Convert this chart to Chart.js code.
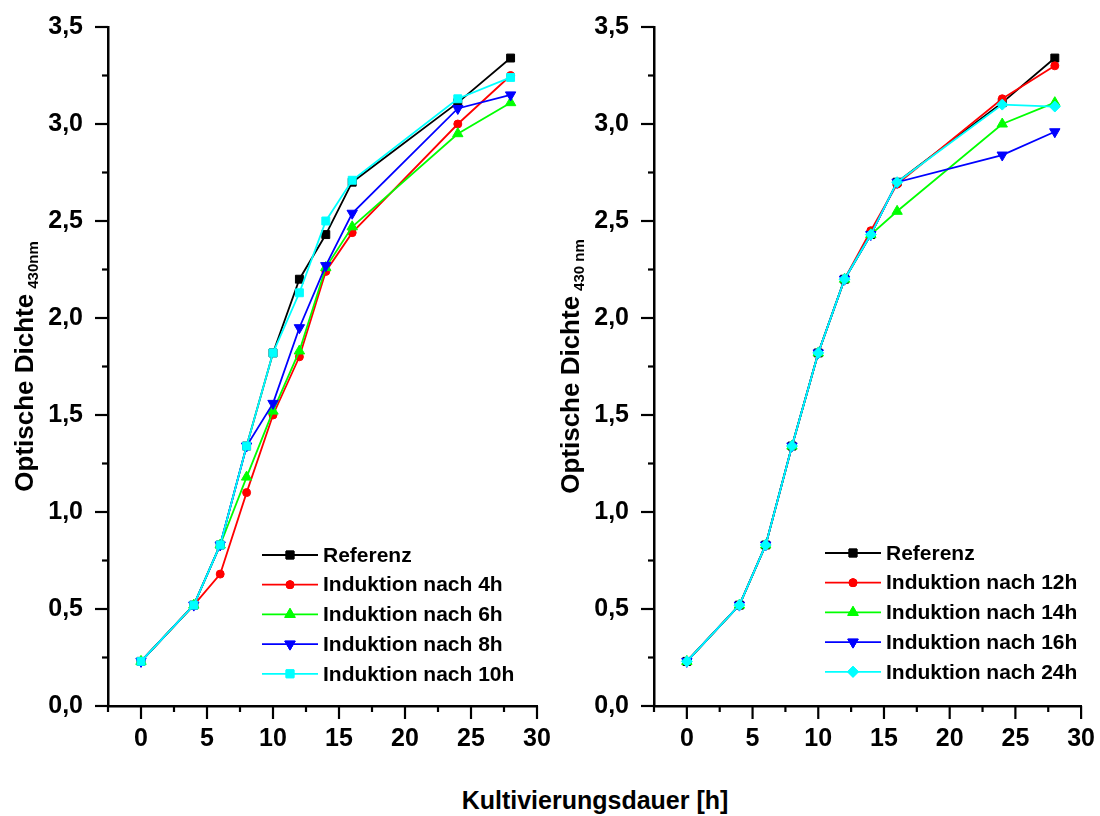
<!DOCTYPE html>
<html>
<head>
<meta charset="utf-8">
<script src="https://cdn.jsdelivr.net/npm/chart.js@4/dist/chart.umd.min.js"></script>
<style>
  body { margin: 0; background: #fff; }
  #wrap { position: relative; width: 1100px; height: 816px; overflow: hidden; }
  .box { position: absolute; top: 0; }
  #xtitle {
    position: absolute; left: 0; width: 1190px; top: 786px; text-align: center;
    font: bold 25px "Liberation Sans", Arial, sans-serif; color: #000;
  }
</style>
</head>
<body>
<div id="wrap">
  <div class="box" style="left:0px"><canvas id="left" width="560" height="760"></canvas></div>
  <div class="box" style="left:550px"><canvas id="right" width="550" height="760"></canvas></div>
  <div id="xtitle">Kultivierungsdauer [h]</div>
</div>
<script>
// --- DATA ---
const hours = [0, 4, 6, 8, 10, 12, 14, 16, 24, 28];
const referenz = [0.23, 0.52, 0.83, 1.34, 1.82, 2.20, 2.43, 2.70, 3.11, 3.34];
// left panel
const ind4h  = [0.23, 0.52, 0.68, 1.10, 1.50, 1.80, 2.24, 2.44, 3.00, 3.25];
const ind6h  = [0.23, 0.52, 0.83, 1.18, 1.52, 1.83, 2.26, 2.47, 2.95, 3.11];
const ind8h  = [0.23, 0.52, 0.83, 1.34, 1.56, 1.95, 2.27, 2.54, 3.08, 3.15];
const ind10h = [0.23, 0.52, 0.83, 1.34, 1.82, 2.13, 2.50, 2.71, 3.13, 3.24];
// right panel
const ind12h = [0.23, 0.52, 0.83, 1.34, 1.82, 2.20, 2.45, 2.69, 3.13, 3.30];
const ind14h = [0.23, 0.52, 0.83, 1.34, 1.82, 2.20, 2.43, 2.55, 3.00, 3.11];
const ind16h = [0.23, 0.52, 0.83, 1.34, 1.82, 2.20, 2.43, 2.70, 2.84, 2.96];
const ind24h = [0.23, 0.52, 0.83, 1.34, 1.82, 2.20, 2.43, 2.70, 3.10, 3.09];

const leftLabels  = ['Referenz', 'Induktion nach 4h', 'Induktion nach 6h', 'Induktion nach 8h', 'Induktion nach 10h'];
const rightLabels = ['Referenz', 'Induktion nach 12h', 'Induktion nach 14h', 'Induktion nach 16h', 'Induktion nach 24h'];

const FONT = '"Liberation Sans", Arial, sans-serif';
const colors = ['#000000', '#ff0000', '#00ff00', '#0000ff', '#00ffff'];

function makeSet(label, values, i, style, radius, rotation) {
    return {
        label: label,
        data: hours.map((h, k) => ({ x: h, y: values[k] })),
        borderColor: colors[i],
        backgroundColor: colors[i],
        borderWidth: 1.8,
        pointStyle: style,
        pointRadius: radius,
        pointRotation: rotation || 0,
        pointBorderWidth: 1,
        pointBorderColor: colors[i],
        pointBackgroundColor: colors[i],
        tension: 0,
        clip: false,
        order: 4 - i
    };
}

// ticks with major/minor lengths
const tickMarks = {
    id: 'tickMarks',
    afterDraw(chart) {
        const ctx = chart.ctx;
        const xs = chart.scales.x, ys = chart.scales.y;
        ctx.save();
        ctx.strokeStyle = '#000';
        ctx.lineWidth = 2.2;
        ys.ticks.forEach(t => {
            const major = Math.abs(t.value * 2 - Math.round(t.value * 2)) < 1e-6;
            const len = major ? 13 : 6;
            const y = ys.getPixelForValue(t.value);
            ctx.beginPath();
            ctx.moveTo(xs.left - len, y);
            ctx.lineTo(xs.left, y);
            ctx.stroke();
        });
        xs.ticks.forEach(t => {
            const major = Math.abs(t.value / 5 - Math.round(t.value / 5)) < 1e-6;
            const len = major ? 13 : 6;
            const x = xs.getPixelForValue(t.value);
            ctx.beginPath();
            ctx.moveTo(x, ys.bottom);
            ctx.lineTo(x, ys.bottom + len);
            ctx.stroke();
        });
        ctx.restore();
    }
};

// y title with subscript
const yTitle = {
    id: 'yTitle',
    afterDraw(chart, args, opts) {
        const ctx = chart.ctx;
        const area = chart.chartArea;
        ctx.save();
        ctx.translate(opts.x, (area.top + area.bottom) / 2);
        ctx.rotate(-Math.PI / 2);
        ctx.fillStyle = '#000';
        ctx.textBaseline = 'middle';
        ctx.font = 'bold 26px ' + FONT;
        const w1 = ctx.measureText(opts.text).width;
        ctx.font = 'bold 15px ' + FONT;
        const w2 = ctx.measureText(opts.sub).width;
        const start = -(w1 + 5 + w2) / 2;
        ctx.font = 'bold 26px ' + FONT;
        ctx.textAlign = 'left';
        ctx.fillText(opts.text, start, 0);
        ctx.font = 'bold 15px ' + FONT;
        ctx.fillText(opts.sub, start + w1 + 5, 8);
        ctx.restore();
    }
};

// legend drawn inside the plot
const innerLegend = {
    id: 'innerLegend',
    afterDraw(chart, args, opts) {
        const ctx = chart.ctx;
        ctx.save();
        chart.data.datasets.forEach((ds, i) => {
            const y = opts.y + i * opts.step;
            ctx.strokeStyle = ds.borderColor;
            ctx.lineWidth = 1.8;
            ctx.beginPath();
            ctx.moveTo(opts.x, y);
            ctx.lineTo(opts.x + 56, y);
            ctx.stroke();
            ctx.fillStyle = ds.backgroundColor;
            ctx.lineWidth = 1;
            Chart.helpers.drawPoint(ctx, {
                pointStyle: ds.pointStyle, radius: ds.pointRadius,
                rotation: ds.pointRotation, borderWidth: 1
            }, opts.x + 28, y);
            ctx.fill();
            ctx.stroke();
            ctx.fillStyle = '#000';
            ctx.font = 'bold 21px ' + FONT;
            ctx.textBaseline = 'middle';
            ctx.textAlign = 'left';
            ctx.fillText(ds.label, opts.x + 61, y + 1);
        });
        ctx.restore();
    }
};

function makeChart(id, datasets, cfg) {
    return new Chart(document.getElementById(id), {
        type: 'line',
        data: { datasets: datasets },
        plugins: [tickMarks, yTitle, innerLegend],
        options: {
            responsive: false,
            animation: false,
            layout: { padding: { top: 27, right: cfg.padRight, left: 0, bottom: 0 } },
            plugins: {
                legend: { display: false },
                tooltip: { enabled: false },
                yTitle: { x: cfg.titleX, text: 'Optische Dichte', sub: cfg.sub },
                innerLegend: { x: cfg.legX, y: cfg.legY, step: 29.7 }
            },
            scales: {
                x: {
                    type: 'linear', min: -2.5, max: 30,
                    afterFit: s => { s.height = 54; },
                    ticks: {
                        stepSize: 2.5, autoSkip: false, maxRotation: 0, padding: 5, color: '#000',
                        font: { family: FONT, size: 25, weight: 'bold' },
                        callback: v => (Math.abs(v / 5 - Math.round(v / 5)) < 1e-6 && v >= 0) ? String(v) : ''
                    },
                    grid: { drawOnChartArea: false, drawTicks: true, tickLength: 13, color: 'transparent' },
                    border: { display: true, color: '#000', width: 2.5 }
                },
                y: {
                    min: 0, max: 3.5,
                    afterFit: s => { s.width = cfg.yWidth; },
                    ticks: {
                        stepSize: 0.25, autoSkip: false, padding: 12, color: '#000',
                        font: { family: FONT, size: 25, weight: 'bold' },
                        callback: v => Math.abs(v * 2 - Math.round(v * 2)) < 1e-6 ? v.toFixed(1).replace('.', ',') : ''
                    },
                    grid: { drawOnChartArea: false, drawTicks: true, tickLength: 13, color: 'transparent' },
                    border: { display: true, color: '#000', width: 2.5 }
                }
            }
        }
    });
}

makeChart('left', [
    makeSet(leftLabels[0], referenz, 0, 'rect', 5.6),
    makeSet(leftLabels[1], ind4h, 1, 'circle', 4),
    makeSet(leftLabels[2], ind6h, 2, 'triangle', 6),
    makeSet(leftLabels[3], ind8h, 3, 'triangle', 6, 180),
    makeSet(leftLabels[4], ind10h, 4, 'rect', 5.6)
], { padRight: 23, yWidth: 108, titleX: 26, sub: '430nm', legX: 262, legY: 555 });

makeChart('right', [
    makeSet(rightLabels[0], referenz, 0, 'rect', 5.6),
    makeSet(rightLabels[1], ind12h, 1, 'circle', 4),
    makeSet(rightLabels[2], ind14h, 2, 'triangle', 6),
    makeSet(rightLabels[3], ind16h, 3, 'triangle', 6, 180),
    makeSet(rightLabels[4], ind24h, 4, 'rectRot', 5.5)
], { padRight: 17, yWidth: 104, titleX: 22, sub: '430 nm', legX: 275, legY: 553 });
</script>
</body>
</html>
